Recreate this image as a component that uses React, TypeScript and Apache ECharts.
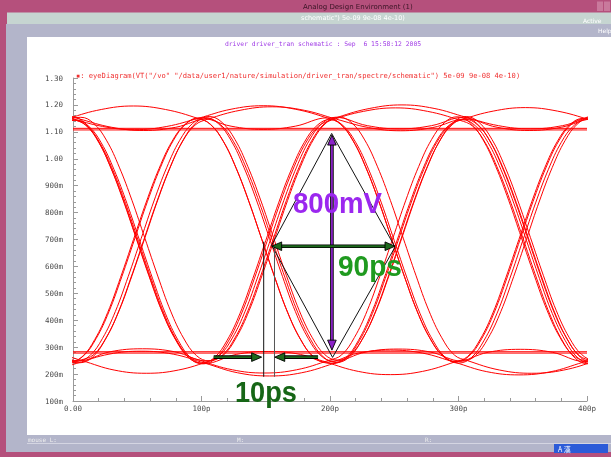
import React, { useEffect, useRef } from "react";
import * as echarts from "echarts";

// ---------- axis tick labels ----------
const X_TICK_LABELS = ["0.00", "100p", "200p", "300p", "400p"];
const Y_TICK_LABELS = ["100m", "200m", "300m", "400m", "500m", "600m", "700m", "800m", "900m", "1.00", "1.10", "1.20", "1.30"];

// ---------- waveform shapes: [ps inside one 100 ps unit interval, volts] ----------
const RISE_EDGE = [[0, 0.245], [10, 0.265], [20, 0.33], [30, 0.43], [40, 0.56], [50, 0.7], [60, 0.84], [70, 0.965], [80, 1.065], [90, 1.128], [100, 1.15]];
const FALL_EDGE = [[0, 1.15], [10, 1.128], [20, 1.065], [30, 0.965], [40, 0.84], [50, 0.7], [60, 0.56], [70, 0.43], [80, 0.33], [90, 0.265], [100, 0.245]];
const HIGH_OVERSHOOT = [[0, 1.15], [25, 1.183], [50, 1.196], [75, 1.183], [100, 1.15]];
const HIGH_SAG = [[0, 1.15], [25, 1.119], [50, 1.107], [75, 1.119], [100, 1.15]];
const LOW_BUMP = [[0, 0.245], [25, 0.279], [50, 0.29], [75, 0.279], [100, 0.245]];
const LOW_UNDERSHOOT = [[0, 0.245], [25, 0.21], [50, 0.198], [75, 0.21], [100, 0.245]];

// bit-pattern of each overlaid trace, one letter per unit interval starting at -100 ps
// R rise, F fall, U high overshoot, D high sag, u low bump, d low undershoot
const TRACE_PATTERNS = [
  "RUFdRD", "FuRDFd", "UFRFRF", "dRFRFR", "RFuRUF", "FRDFuR", "UDFRDF", "udRFdR",
  "RFRUFR", "FRFuRF", "DFdRFR", "uRUDFu", "UDUFRU", "dudRFu", "DFRUDD", "uRFudu",
];
const TRACE_SHIFT_PS = [-3, 4, 0, 6, 2, -2, 5, 7, 1, 3, -1, 5, -2, 3, 6, -3];
const TRACE_OFFSET_V = [0, 0.004, -0.004, 0.007, -0.006, 0.002, -0.002, 0.005, -0.007, 0.003, 0.006, -0.003, 0.001, -0.005, 0.004, -0.001];
const RETRACE_LEVELS_V = [1.113, 1.107, 0.283, 0.278];

// ---------- annotations (ps, volts) ----------
const EYE_DIAMOND = [[201.3, 1.094], [250.6, 0.672], [202, 0.262], [154.6, 0.679], [201.3, 1.094]];
const JITTER_LINE_A = [[148.4, 0.692], [148.4, 0.19]];
const JITTER_LINE_B = [[156.8, 0.679], [156.8, 0.19]];
// [x1, y1, x2, y2, heads (1 = end, 2 = both), colour index]
const ARROWS = [
  [201.5, 1.088, 201.5, 0.289, 2, 0],
  [154.6, 0.675, 250.6, 0.675, 2, 1],
  [109.5, 0.263, 146.8, 0.263, 1, 1],
  [190.7, 0.263, 157.0, 0.263, 1, 1],
];
const ARROW_COLORS = ["#8a22c8", "#1d6a1d"];

const SEGMENTS: Record<string, number[][]> = {
  R: RISE_EDGE, F: FALL_EDGE, U: HIGH_OVERSHOOT, D: HIGH_SAG, u: LOW_BUMP, d: LOW_UNDERSHOOT,
};

function buildTrace(pattern: string, shift: number, dv: number) {
  const pts: number[][] = [];
  pattern.split("").forEach((c, k) => {
    SEGMENTS[c].forEach(([t, v], i) => {
      if (k > 0 && i === 0) return;
      pts.push([-100 + k * 100 + t + shift, +(v + dv).toFixed(4)]);
    });
  });
  return pts;
}

function arrowItem(params: any, api: any) {
  const a = api.coord([api.value(0), api.value(1)]);
  const b = api.coord([api.value(2), api.value(3)]);
  const both = api.value(4) === 2;
  const color = ARROW_COLORS[api.value(5)];
  const dx = b[0] - a[0];
  const dy = b[1] - a[1];
  const len = Math.hypot(dx, dy);
  const ux = dx / len;
  const uy = dy / len;
  const L = 10;
  const W = 4.3;
  const head = (tip: number[], dx2: number, dy2: number) => {
    const bx = tip[0] - dx2 * L;
    const by = tip[1] - dy2 * L;
    return {
      type: "polygon",
      shape: { points: [tip, [bx - dy2 * W, by + dx2 * W], [bx + dy2 * W, by - dx2 * W]] },
      style: { fill: color, stroke: "#000", lineWidth: 0.9 },
    };
  };
  const s = both ? [a[0] + ux * (L - 1), a[1] + uy * (L - 1)] : a;
  const e = [b[0] - ux * (L - 1), b[1] - uy * (L - 1)];
  const children: any[] = [
    { type: "line", shape: { x1: s[0], y1: s[1], x2: e[0], y2: e[1] }, style: { stroke: "#000", lineWidth: 3.6 } },
    { type: "line", shape: { x1: s[0], y1: s[1], x2: e[0], y2: e[1] }, style: { stroke: color, lineWidth: 1.8 } },
    head(b, ux, uy),
  ];
  if (both) children.push(head(a, -ux, -uy));
  return { type: "group", children };
}

const mono = '"DejaVu Sans Mono", monospace';
const sans = '"DejaVu Sans", sans-serif';

function txt(text: string, x: number, y: number, size: number, fill: string, family = mono, align = "left", extra: any = {}) {
  return {
    type: "text",
    x,
    y,
    z: 50,
    ...extra,
    style: {
      text,
      fill,
      font: `${extra.bold ? "bold " : ""}${size}px ${family}`,
      align,
      verticalAlign: "middle",
      textAlign: align,
      textVerticalAlign: "middle",
    },
  };
}

function rect(x: number, y: number, w: number, h: number, fill: string) {
  return { type: "rect", z: -10, shape: { x, y, width: w, height: h }, style: { fill } };
}

function buildOption() {
  const axisColor = "#9a9a9a";
  const labelColor = "#4a4a4a";
  const traceSeries = TRACE_PATTERNS.map((p, i) => ({
    type: "line",
    data: buildTrace(p, TRACE_SHIFT_PS[i], TRACE_OFFSET_V[i]),
    smooth: 0.4,
    showSymbol: false,
    symbol: "none",
    silent: true,
    clip: true,
    lineStyle: { color: "#ff0000", width: 1 },
    z: 2,
  }));
  const retraceSeries = RETRACE_LEVELS_V.map((v) => ({
    type: "line",
    data: [[0, v], [400, v]],
    showSymbol: false,
    symbol: "none",
    silent: true,
    lineStyle: { color: "#ff0000", width: 1 },
    z: 2,
  }));
  const thin = (data: number[][], color: string) => ({
    type: "line",
    data,
    showSymbol: false,
    symbol: "none",
    silent: true,
    lineStyle: { color, width: 1 },
    z: 5,
  });

  return {
    animation: false,
    backgroundColor: "transparent",
    grid: { left: 73, right: 24, top: 78, bottom: 56, containLabel: false },
    xAxis: {
      type: "value",
      min: 0,
      max: 400,
      interval: 100,
      axisLine: { show: true, onZero: false, lineStyle: { color: axisColor, width: 1 } },
      axisTick: { show: true, inside: true, length: 5, lineStyle: { color: axisColor } },
      minorTick: { show: true, splitNumber: 5, length: 3, lineStyle: { color: axisColor } },
      splitLine: { show: false },
      axisLabel: {
        formatter: (v: number) => X_TICK_LABELS[Math.round(v / 100)],
        fontFamily: "DejaVu Sans Mono",
        fontSize: 7.5,
        color: labelColor,
        margin: 3,
      },
    },
    yAxis: {
      type: "value",
      min: 0.1,
      max: 1.3,
      interval: 0.1,
      axisLine: { show: true, onZero: false, lineStyle: { color: axisColor, width: 1 } },
      axisTick: { show: true, inside: true, length: 5, lineStyle: { color: axisColor } },
      minorTick: { show: true, splitNumber: 5, length: 3, lineStyle: { color: axisColor } },
      splitLine: { show: false },
      axisLabel: {
        formatter: (v: number) => Y_TICK_LABELS[Math.round((v - 0.1) / 0.1)],
        fontFamily: "DejaVu Sans Mono",
        fontSize: 7.5,
        color: labelColor,
        margin: 10,
      },
    },
    series: [
      ...traceSeries,
      ...retraceSeries,
      thin(EYE_DIAMOND, "#111"),
      thin(JITTER_LINE_A, "#111"),
      thin(JITTER_LINE_B, "#555"),
      {
        type: "custom",
        renderItem: arrowItem,
        data: ARROWS,
        silent: true,
        z: 10,
      },
    ],
    graphic: [
      rect(0, 0, 611, 457, "#b5507c"),
      rect(7, 12.5, 604, 11.5, "#c6d5d1"),
      rect(6, 24, 605, 428, "#b3b5ca"),
      rect(27, 37, 584, 398, "#ffffff"),
      rect(27, 443, 584, 1, "#d4d5e2"),
      rect(554, 444, 54, 9, "#2c5bd8"),
      rect(597, 1.5, 6, 9.5, "#c9799c"),
      rect(604, 1.5, 6, 9.5, "#c9799c"),
      txt("Analog Design Environment (1)", 303, 6.5, 7, "#3a1526", sans),
      txt('schematic") 5e-09 9e-08 4e-10)', 301, 18, 6.5, "#ffffff", sans),
      txt("Active", 583, 20, 6, "#ffffff", sans),
      txt("Help", 598, 30.5, 6, "#ffffff", sans),
      txt("driver driver_tran schematic : Sep  6 15:58:12 2005", 323, 43.5, 6.4, "#a03ce6", mono, "center"),
      txt('\u25aa: eyeDiagram(VT("/vo" "/data/user1/nature/simulation/driver_tran/spectre/schematic") 5e-09 9e-08 4e-10)', 76, 75, 7.1, "#f03030", mono),
      txt("mouse L:", 28, 439, 6, "#eeeeee", mono),
      txt("M:", 237, 439, 6, "#eeeeee", mono),
      txt("R:", 425, 439, 6, "#eeeeee", mono),
      txt("A 漢", 558, 448.5, 7, "#ffffff", '"Noto Sans CJK SC", sans-serif'),
      txt("800mV", 293, 202.5, 29.5, "#9b27ef", '"Liberation Sans", Arial, sans-serif', "left", { bold: true, scaleX: 0.936 }),
      txt("90ps", 338, 266, 29.5, "#1f9a1f", '"Liberation Sans", Arial, sans-serif', "left", { bold: true, scaleX: 0.95 }),
      txt("10ps", 235, 392, 29.5, "#166616", '"Liberation Sans", Arial, sans-serif', "left", { bold: true, scaleX: 0.92 }),
    ],
  };
}

export default function App() {
  const ref = useRef<HTMLDivElement>(null);
  useEffect(() => {
    const chart = echarts.init(ref.current as HTMLDivElement, null, { renderer: "svg" });
    chart.setOption(buildOption() as any);
    return () => chart.dispose();
  }, []);
  return <div ref={ref} style={{ position: "fixed", left: 0, top: 0, width: 611, height: 457 }} />;
}
